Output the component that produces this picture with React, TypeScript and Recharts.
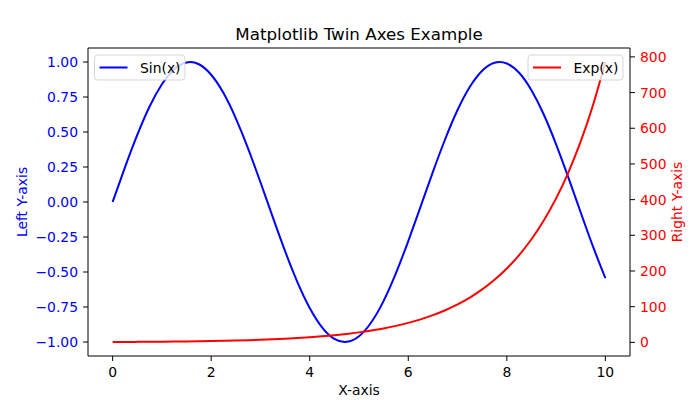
import React from 'react';
import { LineChart, Line, XAxis, YAxis, Legend, Label } from 'recharts';

const xValues = [0, 0.25, 0.5, 0.75, 1, 1.25, 1.5, 1.75, 2, 2.25, 2.5, 2.75, 3, 3.25, 3.5, 3.75, 4, 4.25, 4.5, 4.75, 5, 5.25, 5.5, 5.75, 6, 6.25, 6.5, 6.75, 7, 7.25, 7.5, 7.75, 8, 8.25, 8.5, 8.75, 9, 9.25, 9.5, 9.75, 10];
const sinValues = [0, 0.247, 0.479, 0.682, 0.841, 0.949, 0.997, 0.984, 0.909, 0.778, 0.598, 0.382, 0.141, -0.108, -0.351, -0.572, -0.757, -0.895, -0.978, -0.999, -0.959, -0.859, -0.706, -0.508, -0.279, -0.033, 0.215, 0.45, 0.657, 0.823, 0.938, 0.995, 0.989, 0.923, 0.798, 0.625, 0.412, 0.174, -0.075, -0.319, -0.544];
const expValues = [1, 1.181, 1.396, 1.649, 1.948, 2.301, 2.718, 3.211, 3.794, 4.482, 5.294, 6.254, 7.389, 8.729, 10.31, 12.18, 14.39, 17.0, 20.09, 23.73, 28.03, 33.12, 39.12, 46.22, 54.6, 64.5, 76.2, 90.02, 106.3, 125.6, 148.4, 175.4, 207.1, 244.7, 289.0, 341.5, 403.4, 476.6, 563.0, 665.1, 785.7];

const xTicks = [0, 2, 4, 6, 8, 10];
const leftTicks = [-1, -0.75, -0.5, -0.25, 0, 0.25, 0.5, 0.75, 1];
const rightTicks = [0, 100, 200, 300, 400, 500, 600, 700, 800];

const seriesNames = { sin: 'Sin(x)', exp: 'Exp(x)' };
const titleText = 'Matplotlib Twin Axes Example';
const xLabel = 'X-axis';
const leftLabel = 'Left Y-axis';
const rightLabel = 'Right Y-axis';

const data = xValues.map((x, i) => ({ x, sin: sinValues[i], exp: expValues[i] }));

const FONT = 'DejaVu Sans, sans-serif';
const FS = 13.9;
const BLUE = '#0000ff';
const RED = '#ff0000';

const fmtLeft = (v: number) => (v < 0 ? '\u2212' + Math.abs(v).toFixed(2) : v.toFixed(2));

const LegendContent = (props: any) => {
  const payload = props.payload || [];
  const boxes: any = {
    sin: { x: 94.5, w: 90.5 },
    exp: { x: 528, w: 95 },
  };
  return (
    <svg width={700} height={400} style={{ position: 'absolute', left: 0, top: 0, pointerEvents: 'none' }}>
      {payload.map((p: any) => {
        const b = boxes[p.dataKey] || { x: 94.5, w: 90 };
        return (
          <g key={p.dataKey}>
            <rect x={b.x} y={55} width={b.w} height={25} rx={3} ry={3} fill="#ffffff" fillOpacity={0.8} stroke="#cccccc" strokeOpacity={0.8} strokeWidth={1} />
            <line x1={b.x + 5} x2={b.x + 33} y1={67.5} y2={67.5} stroke={p.color} strokeWidth={2} />
            <text x={b.x + 45.5} y={72.5} fontFamily={FONT} fontSize={FS} fill="#000">{p.value}</text>
          </g>
        );
      })}
    </svg>
  );
};

export default function App() {
  return (
    <div style={{ position: 'absolute', left: 0, top: 0, width: 700, height: 400, background: '#fff' }}>
      <LineChart width={700} height={400} data={data} margin={{ top: 47, right: 0, bottom: 0, left: 0 }} style={{ fontFamily: FONT }}>
        <XAxis
          dataKey="x"
          type="number"
          domain={[-0.5, 10.5]}
          ticks={xTicks}
          height={44}
          tickSize={5}
          tickMargin={6}
          axisLine={{ stroke: '#000', strokeWidth: 1 }}
          tickLine={{ stroke: '#000', strokeWidth: 1 }}
          tick={{ fill: '#000', fontSize: FS, fontFamily: FONT }}
          interval={0}
        >
          <Label
            content={(p: any) => {
              const vb = p.viewBox || { x: 88, width: 542 };
              return (
                <text x={vb.x + vb.width / 2} y={395} textAnchor="middle" fontFamily={FONT} fontSize={FS} fill="#000">{xLabel}</text>
              );
            }}
          />
        </XAxis>
        <XAxis
          xAxisId="top"
          dataKey="x"
          type="number"
          orientation="top"
          domain={[-0.5, 10.5]}
          height={1}
          tick={false}
          tickLine={false}
          axisLine={{ stroke: '#000', strokeWidth: 1 }}
        >
          <Label
            content={(p: any) => {
              const vb = p.viewBox || { x: 88, width: 542 };
              return (
                <text x={vb.x + vb.width / 2} y={39.5} textAnchor="middle" fontFamily={FONT} fontSize={16.7} fill="#000">{titleText}</text>
              );
            }}
          />
        </XAxis>
        <YAxis
          yAxisId="left"
          orientation="left"
          type="number"
          domain={[-1.1, 1.1]}
          ticks={leftTicks}
          width={88}
          tickSize={5}
          tickMargin={5}
          tickFormatter={fmtLeft}
          axisLine={{ stroke: '#000', strokeWidth: 1 }}
          tickLine={{ stroke: '#000', strokeWidth: 1 }}
          tick={{ fill: BLUE, fontSize: FS, fontFamily: FONT }}
          interval={0}
        >
          <Label
            content={(p: any) => {
              const vb = p.viewBox || { y: 48, height: 308 };
              const cy = vb.y + vb.height / 2;
              return (
                <text x={27} y={cy} transform={`rotate(-90, 27, ${cy})`} textAnchor="middle" fontFamily={FONT} fontSize={FS} fill={BLUE}>{leftLabel}</text>
              );
            }}
          />
        </YAxis>
        <YAxis
          yAxisId="right"
          orientation="right"
          type="number"
          domain={[-38.2, 824.9]}
          ticks={rightTicks}
          width={70}
          tickSize={5}
          tickMargin={5}
          axisLine={{ stroke: '#000', strokeWidth: 1 }}
          tickLine={{ stroke: '#000', strokeWidth: 1 }}
          tick={{ fill: RED, fontSize: FS, fontFamily: FONT }}
          interval={0}
        >
          <Label
            content={(p: any) => {
              const vb = p.viewBox || { y: 48, height: 308 };
              const cy = vb.y + vb.height / 2;
              return (
                <text x={681.5} y={cy} transform={`rotate(-90, 681.5, ${cy})`} textAnchor="middle" fontFamily={FONT} fontSize={FS} fill={RED}>{rightLabel}</text>
              );
            }}
          />
        </YAxis>
        <Line yAxisId="left" dataKey="sin" name={seriesNames.sin} type="natural" stroke={BLUE} strokeWidth={2} dot={false} activeDot={false} isAnimationActive={false} />
        <Line yAxisId="right" dataKey="exp" name={seriesNames.exp} type="natural" stroke={RED} strokeWidth={2} dot={false} activeDot={false} isAnimationActive={false} />
        <Legend
          layout="horizontal"
          verticalAlign="middle"
          align="center"
          content={LegendContent}
          wrapperStyle={{ position: 'absolute', left: 0, top: 0, width: 700, height: 400, pointerEvents: 'none' }}
        />
      </LineChart>
    </div>
  );
}
